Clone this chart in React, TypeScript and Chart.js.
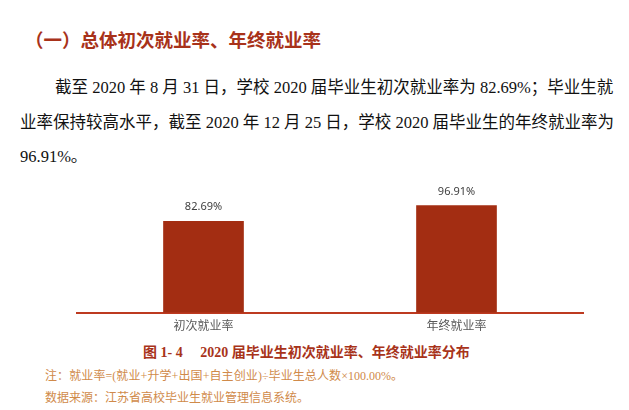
import React, { useEffect, useRef } from "react";
import { Chart, registerables } from "chart.js";

Chart.register(...registerables);

const categories = ["初次就业率", "年终就业率"];
const rates = [82.69, 96.91];
const yMin = 0;
const yMax = 120;

const titleText = "（一）总体初次就业率、年终就业率";
const paraLines = [
  "截至 2020 年 8 月 31 日，学校 2020 届毕业生初次就业率为 82.69%；毕业生就",
  "业率保持较高水平，截至 2020 年 12 月 25 日，学校 2020 届毕业生的年终就业率为",
  "96.91%。",
];
const captionText = "图 1- 4\u3000 2020 届毕业生初次就业率、年终就业率分布";
const noteLines = [
  "注：就业率=(就业+升学+出国+自主创业)÷毕业生总人数×100.00%。",
  "数据来源：江苏省高校毕业生就业管理信息系统。",
];

const BAR_COLOR = "#a32d12";
const AXIS_COLOR = "#bd3a20";
const SERIF = '"Liberation Serif", "Noto Sans CJK SC", serif';

const valueLabelPlugin = {
  id: "valueLabels",
  afterDatasetsDraw(chart: any) {
    const ctx = chart.ctx;
    const meta = chart.getDatasetMeta(0);
    const data = chart.data.datasets[0].data as number[];
    ctx.save();
    ctx.font = '11px "Noto Sans", "DejaVu Sans", sans-serif';
    ctx.fillStyle = "#404040";
    ctx.textAlign = "center";
    ctx.textBaseline = "middle";
    meta.data.forEach((el: any, i: number) => {
      ctx.fillText(data[i].toFixed(2) + "%", el.x, el.y - 14);
    });
    ctx.restore();
  },
};

function BarChart() {
  const ref = useRef<HTMLCanvasElement | null>(null);
  useEffect(() => {
    if (!ref.current) return;
    const chart = new Chart(ref.current, {
      type: "bar",
      data: {
        labels: categories,
        datasets: [
          {
            data: rates,
            backgroundColor: BAR_COLOR,
            barThickness: 80,
          },
        ],
      },
      options: {
        responsive: false,
        animation: false,
        layout: { padding: { left: 77, right: 46, top: 20, bottom: 1 } },
        plugins: {
          legend: { display: false },
          tooltip: { enabled: false },
        },
        scales: {
          x: {
            grid: { display: false, drawTicks: false },
            border: { display: true, color: AXIS_COLOR, width: 2 },
            ticks: {
              color: "#595959",
              font: { size: 12, family: '"Noto Sans CJK SC", sans-serif' },
              padding: 6,
            },
          },
          y: {
            display: false,
            min: yMin,
            max: yMax,
          },
        },
      },
      plugins: [valueLabelPlugin],
    });
    return () => chart.destroy();
  }, []);
  return <canvas ref={ref} width={629} height={180} style={{ display: "block" }} />;
}

export default function App() {
  const abs = (extra: React.CSSProperties): React.CSSProperties => ({
    position: "absolute",
    margin: 0,
    whiteSpace: "nowrap",
    ...extra,
  });
  return (
    <div
      style={{
        position: "absolute",
        left: 0,
        top: 0,
        width: 629,
        height: 410,
        background: "#ffffff",
        overflow: "hidden",
      }}
    >
      <div
        style={abs({
          left: 25,
          top: 28,
          fontSize: 18.5,
          lineHeight: "22px",
          fontWeight: "bold",
          color: "#a8321a",
          fontFamily: '"Noto Sans CJK SC", sans-serif',
        })}
      >
        {titleText}
      </div>
      {paraLines.map((line, i) => {
        const left = i === 0 ? 55 : 20;
        const tops = [78, 113, 147];
        return (
          <div
            key={i}
            style={abs({
              left,
              top: tops[i],
              width: i < 2 ? 607 - left : undefined,
              fontSize: 16.5,
              lineHeight: "20px",
              color: "#111111",
              fontFamily: SERIF,
              textAlign: "justify",
              textAlignLast: i < 2 ? "justify" : "left",
            } as React.CSSProperties)}
          >
            {line}
          </div>
        );
      })}
      <div style={{ position: "absolute", left: 0, top: 160, width: 629, height: 180 }}>
        <BarChart />
      </div>
      <div
        style={abs({
          left: 143,
          top: 344,
          fontSize: 14,
          lineHeight: "17px",
          fontWeight: "bold",
          color: "#a8331a",
          fontFamily: SERIF,
        })}
      >
        {captionText}
      </div>
      {noteLines.map((line, i) => (
        <div
          key={i}
          style={abs({
            left: 45,
            top: [369, 391][i],
            width: i === 0 ? 358 : undefined,
            fontSize: 12,
            lineHeight: "15px",
            color: "#d08a4a",
            fontFamily: SERIF,
            textAlign: "justify",
            textAlignLast: i === 0 ? "justify" : "left",
          } as React.CSSProperties)}
        >
          {line}
        </div>
      ))}
    </div>
  );
}
